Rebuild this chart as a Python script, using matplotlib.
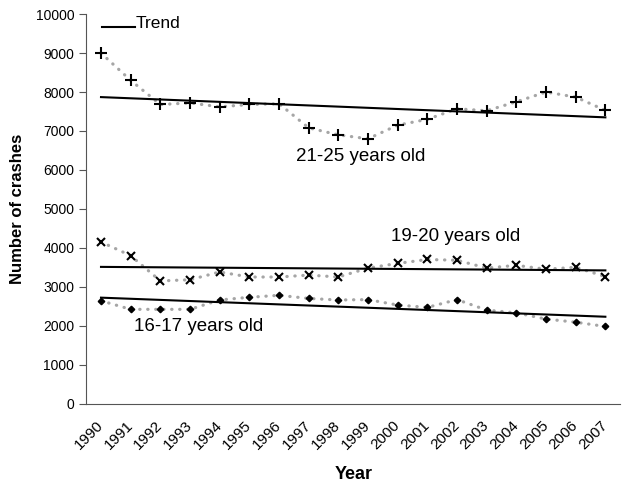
import matplotlib.pyplot as plt
from matplotlib.lines import Line2D

plt.rcParams["font.family"] = ["Liberation Sans", "DejaVu Sans"]

years = list(range(1990, 2008))
age_21_25 = [9000, 8300, 7680, 7720, 7620, 7680, 7700, 7080, 6900, 6800,
             7150, 7300, 7570, 7520, 7750, 8000, 7870, 7530]
age_19_20 = [4150, 3800, 3150, 3180, 3380, 3250, 3250, 3300, 3250, 3480,
             3600, 3700, 3680, 3480, 3550, 3450, 3500, 3260]
age_16_17 = [2640, 2420, 2420, 2420, 2660, 2730, 2780, 2700, 2660, 2670,
             2530, 2470, 2670, 2400, 2330, 2170, 2090, 1980]

# trend lines: value at first and last year
trend_21_25 = [7870, 7350]
trend_19_20 = [3510, 3420]
trend_16_17 = [2720, 2230]

narrow = ["Liberation Sans Narrow", "Liberation Sans", "DejaVu Sans"]

fig = plt.figure(figsize=(6.29, 4.88), dpi=100)
ax = fig.add_axes([0.137, 0.173, 0.849, 0.798])

dots = dict(color="#a6a6a6", linestyle=(0, (0.1, 2.4)), linewidth=2.3,
            dash_capstyle="round", zorder=1)
ax.plot(years, age_21_25, **dots)
ax.plot(years, age_19_20, **dots)
ax.plot(years, age_16_17, **dots)
ax.plot(years, age_21_25, "+", color="black", markersize=8, markeredgewidth=1.5, zorder=3)
ax.plot(years, age_19_20, "x", color="black", markersize=6, markeredgewidth=1.5, zorder=3)
ax.plot(years, age_16_17, "D", color="black", markersize=3.3, zorder=3)

ends = [years[0], years[-1]]
ax.plot(ends, trend_21_25, color="black", linewidth=1.5, zorder=2)
ax.plot(ends, trend_19_20, color="black", linewidth=1.5, zorder=2)
ax.plot(ends, trend_16_17, color="black", linewidth=1.5, zorder=2)

ax.text(1998.75, 6350, "21-25 years old", fontsize=13.5, ha="center", va="center")
ax.text(2001.95, 4280, "19-20 years old", fontsize=13.5, ha="center", va="center")
ax.text(1993.3, 1970, "16-17 years old", fontsize=13.5, ha="center", va="center")

# "Trend" key drawn Excel-style, line sitting on the text baseline
fig.add_artist(Line2D([102 / 629, 135 / 629], [1 - 27 / 488, 1 - 27 / 488],
                      color="black", linewidth=1.5))
fig.text(136 / 629, 1 - 28 / 488, "Trend", fontsize=12.5, va="baseline")

ax.set_xlim(1989.5, 2007.5)
ax.set_ylim(0, 10000)
ax.set_xticks(years)
ax.set_xticklabels([str(y) for y in years], rotation=45, ha="right", va="center",
                   rotation_mode="anchor", fontsize=11, family=narrow)
ax.tick_params(axis="x", length=0, pad=14)
ax.set_yticks(range(0, 10001, 1000))
ax.tick_params(axis="y", labelsize=10, length=5, color="#555555")
for s in ["top", "right"]:
    ax.spines[s].set_visible(False)
for s in ["left", "bottom"]:
    ax.spines[s].set_color("#555555")

ax.set_xlabel("Year", fontsize=13, fontweight="bold", family=narrow, labelpad=10)
ax.set_ylabel("Number of crashes", fontsize=12, fontweight="bold", labelpad=8)

fig.savefig("out.png", dpi=100)
